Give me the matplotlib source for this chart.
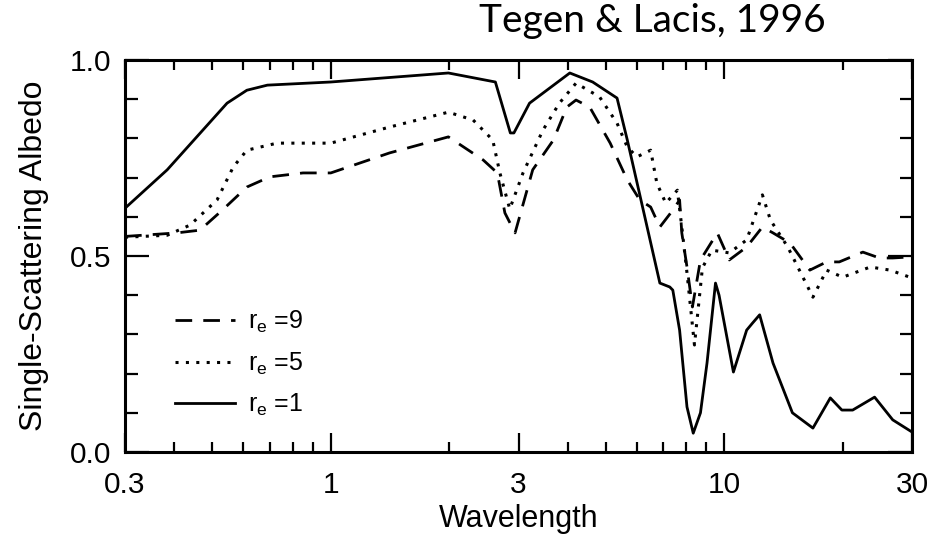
"""Single-scattering albedo of dust vs wavelength (after Tegen & Lacis, 1996)."""

import matplotlib

matplotlib.use("Agg")
import matplotlib.pyplot as plt
from matplotlib.ticker import FixedLocator, FixedFormatter, NullFormatter

# wavelength (um) / albedo for each effective radius
wl_r9 = [0.3, 0.406, 0.465, 0.53, 0.612, 0.70, 0.85, 1.0, 1.41, 1.99, 2.44, 2.65,
         2.77, 2.94, 3.26, 3.68, 3.98, 4.2, 4.55, 5.13, 5.67, 6.1, 6.5, 6.86, 7.4,
         7.7, 7.8, 8.04, 8.3, 8.7, 9.6, 10.3, 11.4, 12.5, 13.3, 14.7, 16.5, 18.2,
         19.6, 22.5, 24.8, 26.8, 30.0]
alb_r9 = [0.55, 0.559, 0.566, 0.617, 0.676, 0.702, 0.712, 0.712, 0.763, 0.804,
          0.745, 0.712, 0.61, 0.559, 0.72, 0.796, 0.88, 0.898, 0.88, 0.788, 0.694,
          0.643, 0.625, 0.574, 0.617, 0.643, 0.559, 0.472, 0.37, 0.49, 0.559, 0.49,
          0.523, 0.574, 0.559, 0.533, 0.464, 0.485, 0.485, 0.51, 0.495, 0.495, 0.498]

wl_r5 = [0.3, 0.384, 0.439, 0.514, 0.565, 0.612, 0.73, 1.0, 1.41, 1.99, 2.3, 2.58,
         2.69, 2.85, 3.08, 3.46, 3.81, 4.2, 4.82, 5.34, 5.67, 6.0, 6.5, 6.74, 7.1,
         7.6, 7.8, 8.04, 8.4, 8.8, 9.3, 10.3, 11.4, 12.5, 13.1, 14.5, 16.8, 18.2,
         20.0, 23.5, 26.4, 30.0]
alb_r5 = [0.548, 0.553, 0.579, 0.643, 0.727, 0.77, 0.788, 0.788, 0.829, 0.867,
          0.847, 0.796, 0.712, 0.62, 0.712, 0.821, 0.89, 0.941, 0.906, 0.839, 0.778,
          0.753, 0.77, 0.686, 0.635, 0.668, 0.574, 0.457, 0.273, 0.47, 0.515, 0.508,
          0.541, 0.656, 0.592, 0.523, 0.395, 0.464, 0.446, 0.472, 0.464, 0.444]

wl_r1 = [0.3, 0.384, 0.545, 0.612, 0.69, 1.0, 1.99, 2.62, 2.86, 2.92, 3.2, 3.54,
         4.05, 4.63, 5.34, 5.67, 6.2, 6.86, 7.27, 7.4, 7.7, 8.04, 8.34, 8.7, 9.04,
         9.5, 9.7, 10.55, 11.4, 11.8, 12.3, 13.3, 14.9, 16.8, 18.6, 19.9, 21.2,
         24.1, 26.8, 30.0]
alb_r1 = [0.622, 0.72, 0.89, 0.923, 0.936, 0.944, 0.967, 0.944, 0.814, 0.814, 0.89,
          0.923, 0.967, 0.944, 0.903, 0.796, 0.625, 0.431, 0.421, 0.413, 0.311,
          0.115, 0.048, 0.1, 0.227, 0.431, 0.40, 0.204, 0.311, 0.329, 0.35, 0.227,
          0.1, 0.061, 0.138, 0.107, 0.107, 0.14, 0.082, 0.051]

labels = ["r$_e$ =9", "r$_e$ =5", "r$_e$ =1"]

x_major = [0.3, 1, 3, 10, 30]
x_major_labels = ["0.3", "1", "3", "10", "30"]
x_minor = [0.4, 0.5, 0.6, 0.7, 0.8, 0.9, 2, 4, 5, 6, 7, 8, 9, 20]
y_major = [0.0, 0.5, 1.0]
y_minor = [0.1, 0.2, 0.3, 0.4, 0.6, 0.7, 0.8, 0.9]

plt.rcParams["font.family"] = ["Liberation Sans", "DejaVu Sans"]
plt.rcParams["mathtext.default"] = "regular"

fig = plt.figure(figsize=(9.33, 5.41), dpi=100)
ax = fig.add_axes([0.134, 0.1645, 0.8435, 0.7245])

ax.plot(wl_r9, alb_r9, color="black", lw=2.0, ls=(0, (6, 4)), label=labels[0])
ax.plot(wl_r5, alb_r5, color="black", lw=2.2, ls=(0, (1, 2.4)), label=labels[1])
ax.plot(wl_r1, alb_r1, color="black", lw=2.0, ls="-", label=labels[2])

ax.set_xscale("log")
ax.set_xlim(0.3, 30)
ax.set_ylim(0, 1)
ax.xaxis.set_major_locator(FixedLocator(x_major))
ax.xaxis.set_major_formatter(FixedFormatter(x_major_labels))
ax.xaxis.set_minor_locator(FixedLocator(x_minor))
ax.xaxis.set_minor_formatter(NullFormatter())
ax.yaxis.set_major_locator(FixedLocator(y_major))
ax.yaxis.set_minor_locator(FixedLocator(y_minor))
ax.set_yticklabels(["0.0", "0.5", "1.0"])

ax.tick_params(which="both", direction="in", top=True, right=True,
               width=1.6, labelsize=21.5)
ax.tick_params(axis="x", which="major", length=14, pad=14)
ax.tick_params(axis="x", which="minor", length=7)
ax.tick_params(axis="y", which="major", length=17, pad=10)
ax.tick_params(axis="y", which="minor", length=9)
for sp in ax.spines.values():
    sp.set_linewidth(2.2)

ax.set_xlabel("Wavelength", fontsize=22, labelpad=3)
ax.set_ylabel("Single-Scattering Albedo", fontsize=23, labelpad=15)

ax.legend(loc="lower left", bbox_to_anchor=(0.035, 0.03), frameon=False,
          fontsize=18, handlelength=2.4, handletextpad=0.5, labelspacing=0.6)

fig.text(0.699, 0.941, "Tegen & Lacis, 1996", fontsize=28, family=["Lato", "DejaVu Sans"],
         ha="center", va="baseline")

fig.savefig("out.png", dpi=100)
